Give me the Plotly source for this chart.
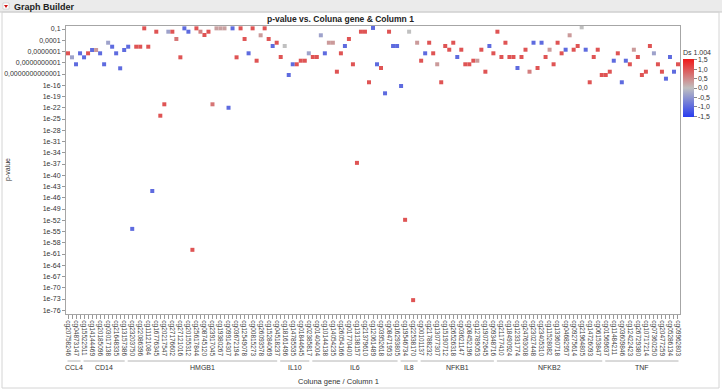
import plotly.graph_objects as go

# ---------------- data ----------------
gene_names = ["CCL4", "CD14", "HMGB1", "IL10", "IL6", "IL8", "NFKB1", "NFKB2", "TNF"]
gene_sizes = [4, 11, 38, 8, 22, 5, 19, 27, 19]

cpg_ids = [
    # CCL4
    "cg20758246", "cg26190095", "cg04873147", "cg02591215",
    # CD14
    "cg15522511", "cg12181036", "cg14144469", "cg17682466", "cg20185096", "cg25392685",
    "cg03017138", "cg17114264", "cg21648335", "cg15778581", "cg13157386",
    # HMGB1
    "cg04914712", "cg23203750", "cg26363256", "cg22086396", "cg07121437", "cg11121084",
    "cg13652826", "cg16776345", "cg10072061", "cg20217547", "cg02466836", "cg27176602",
    "cg26362500", "cg27121016", "cg05518034", "cg20155312", "cg19741135", "cg25617844",
    "cg01364271", "cg08745120", "cg11306428", "cg23917045", "cg06218093", "cg19380267",
    "cg14051482", "cg09914307", "cg22463510", "cg03672194", "cg17820436", "cg12549078",
    "cg24368105", "cg00815273", "cg18302946", "cg26093578", "cg07451632", "cg15284069",
    "cg21037816", "cg04518237",
    # IL10
    "cg26328902", "cg18161496", "cg14120511", "cg14785535", "cg17063608", "cg01844645",
    "cg02205950", "cg02385817",
    # IL6
    "cg24917880", "cg01404004", "cg26288393", "cg10144138", "cg14223612", "cg14054235",
    "cg23251992", "cg26054166", "cg11752116", "cg01770400", "cg07104322", "cg13138157",
    "cg16408570", "cg21379610", "cg05847123", "cg12061489", "cg27356041", "cg03952618",
    "cg19620357", "cg08471953", "cg25149736", "cg16293805",
    # IL8
    "cg04110421", "cg19546734", "cg06913085", "cg22538170", "cg11627394",
    # NFKB1
    "cg00101137", "cg11137590", "cg21788232", "cg14394940", "cg13077307", "cg10185526",
    "cg15190712", "cg24440642", "cg26526318", "cg20917542", "cg03621147", "cg17364028",
    "cg08452196", "cg23160874", "cg12789053", "cg05934217", "cg19072645", "cg27613580",
    "cg09348716",
    # NFKB2
    "cg26252118", "cg21177410", "cg22033811", "cg18490924", "cg26296010", "cg12331774",
    "cg11206784", "cg24763008", "cg20761180", "cg23027448", "cg02418796", "cg23405310",
    "cg26671106", "cg11528082", "cg07894521", "cg13360718", "cg25017463", "cg04682957",
    "cg18843120", "cg09275614", "cg16508239", "cg21964805", "cg03387412", "cg14726093",
    "cg27048516", "cg06153847", "cg19832670",
    # TNF
    "cg01569637", "cg26736341", "cg11484211", "cg17422648", "cg03609846", "cg18661294",
    "cg12422423", "cg23384708", "cg26729380", "cg04425624", "cg10717214", "cg22837916",
    "cg07360250", "cg15989608", "cg20477259", "cg13086627", "cg05286134", "cg24914351",
    "cg09962803",
]

p_values = [
    # CCL4
    3.3e-8, 2.8e-9, 3.9e-11, 3.3e-8,
    # CD14
    2.8e-9, 3.3e-8, 2.5e-7, 2.5e-7, 3.3e-8, 3.9e-11, 2.2e-5, 1.9e-6, 3.3e-8, 3.3e-12, 2.5e-7,
    # HMGB1
    1.9e-6, 5e-55, 1.9e-6, 1.9e-6, 0.15, 1.9e-6, 6.3e-45, 0.019, 7.6e-25, 8.3e-22,
    0.019, 0.019, 2.2e-4, 2.8e-9, 0.15, 0.019, 1.3e-60, 0.15, 0.019, 0.0025,
    0.019, 8.3e-22, 0.15, 0.15, 0.15, 1.0e-22, 0.15, 2.8e-9, 0.15, 2.2e-4,
    3.3e-8, 0.15, 3.5e-10, 0.0021, 0.15, 2.2e-4, 2.9e-6, 2.2e-5,
    # IL10
    3.4e-9, 2.9e-6, 5.4e-14, 3.9e-11, 3.9e-11, 3.5e-10, 3.5e-10, 3.3e-8,
    # IL6
    3.4e-9, 3.4e-9, 0.0021, 3.3e-8, 2.2e-5, 2.2e-5, 4.1e-13, 3.3e-8, 2.9e-6, 2.2e-4,
    3.9e-11, 2e-37, 0.019, 0.019, 6.2e-16, 0.19, 3.9e-11, 4e-12, 7.1e-19, 0.019,
    2.9e-6, 2.9e-6,
    # IL8
    6.3e-17, 1.3e-52, 0.019, 5e-74, 2.2e-5,
    # NFKB1
    3.5e-10, 3.3e-8, 2.2e-5, 3.3e-8, 3.9e-11, 6.2e-16, 2.9e-6, 3.0e-7, 2.2e-5, 3.4e-9,
    3.0e-7, 3.9e-11, 3.9e-11, 3.5e-10, 3.5e-10, 3.0e-7, 4.1e-13, 2.9e-6, 3.3e-8,
    # NFKB2
    0.019, 3.4e-9, 2.2e-5, 3.4e-9, 3.4e-9, 4e-12, 3.4e-9, 3.0e-7, 4.1e-13, 2.2e-5,
    4e-12, 2.2e-5, 3.4e-9, 3.0e-7, 3.9e-11, 2.2e-5, 3.3e-8, 3.0e-7, 0.0021, 3.0e-7,
    2.9e-6, 0.28, 3.0e-7, 6.2e-16, 3.4e-9, 3.0e-7, 5.4e-14,
    # TNF
    5.4e-14, 4.1e-13, 3.5e-10, 3.3e-8, 6.2e-16, 3.5e-10, 3.9e-11, 3.0e-7, 3.4e-9, 5.4e-14,
    4.1e-13, 2.9e-6, 3.3e-8, 3.9e-11, 4.1e-13, 5.6e-15, 3.4e-9, 4.1e-13, 3.9e-11,
]

ds_values = [
    # CCL4
    1.0, -0.35, -1.0, -1.0,
    # CD14
    -1.0, 1.0, -1.0, 0.35, -1.0, -1.0, -0.35, -1.0, -1.0, -1.0, -1.0,
    # HMGB1
    -1.0, -1.0, 1.0, 1.0, 1.0, 1.0, -1.0, 1.0, 1.0, 1.0,
    -0.35, 1.0, 0.7, 1.0, -1.0, -1.0, 1.0, 1.0, 0.6, 1.0,
    1.0, 0.7, 0.3, 0.3, 0.3, -1.0, -1.0, 1.0, 1.0, 1.0,
    -1.0, 1.0, 1.0, 0.35, 1.0, 1.0, -1.0, 1.0,
    # IL10
    1.0, 0.0, -1.0, -1.0, 1.0, 1.0, 1.0, -0.35,
    # IL6
    1.0, 1.0, -0.35, -1.0, 0.35, 0.35, 1.0, 1.0, -1.0, 1.0,
    1.0, 1.0, 1.0, 1.0, 1.0, -1.0, -1.0, 1.0, -1.0, 1.0,
    -1.0, -1.0,
    # IL8
    -1.0, 1.0, 0.0, 1.0, 0.35,
    # NFKB1
    1.0, -1.0, 1.0, 1.0, 0.35, 1.0, 1.0, 1.0, 1.0, -1.0,
    1.0, 1.0, 1.0, 1.0, 0.35, 1.0, 1.0, -1.0, 1.0,
    # NFKB2
    1.0, 1.0, 1.0, 1.0, 1.0, -1.0, 1.0, 1.0, 0.6, -1.0,
    1.0, -1.0, 1.0, 0.35, 1.0, 1.0, 1.0, -1.0, 0.35, 1.0,
    1.0, 0.0, -1.0, 1.0, 1.0, 1.0, 1.0,
    # TNF
    1.0, 1.0, -1.0, 1.0, -1.0, -1.0, 1.0, 0.35, 1.0, 1.0,
    1.0, 1.0, -0.35, 1.0, 1.0, -1.0, -1.0, -1.0, 1.0,
]

y_tick_exponents = [-1, -4, -7, -10, -13, -16, -19, -22, -25, -28, -31, -34, -37, -40,
                    -43, -46, -49, -52, -55, -58, -61, -64, -67, -70, -73, -76]
y_tick_labels = ["0,1", "0,0001", "0,0000001", "0,0000000001", "0,0000000000001",
                 "1e-16", "1e-19", "1e-22", "1e-25", "1e-28", "1e-31", "1e-34", "1e-37",
                 "1e-40", "1e-43", "1e-46", "1e-49", "1e-52", "1e-55", "1e-58", "1e-61",
                 "1e-64", "1e-67", "1e-70", "1e-73", "1e-76"]
cbar_ticks = [1.5, 1.0, 0.5, 0.0, -0.5, -1.0, -1.5]
cbar_labels = ["1,5", "1,0", "0,5", "0,0", "-0,5", "-1,0", "-1,5"]

# ---------------- layout helpers ----------------
W, H = 722, 391
ML, MR, MT, MB = 66, 42, 26, 77
PW, PH = W - ML - MR, H - MT - MB
FONT = "Liberation Sans"


def fx(px):
    return (px - ML) / PW


def fy(py):
    return 1 - (py - MT) / PH


n_cat = len(cpg_ids)
band = PW / n_cat

fig = go.Figure()
fig.add_trace(go.Scatter(
    x=cpg_ids, y=p_values, mode="markers",
    marker=dict(symbol="square", size=4, line=dict(width=0),
                color=ds_values, cmin=-1.55, cmax=1.55,
                colorscale=[[0, "rgb(40,60,240)"], [0.5, "rgb(192,192,192)"], [1, "rgb(240,25,25)"]],
                colorbar=dict(
                    title=dict(text="Ds 1.004", side="top", font=dict(size=7, color="#333", family=FONT)),
                    x=fx(683), xanchor="left", y=fy(82), yanchor="middle",
                    len=70, lenmode="pixels", thickness=11, outlinewidth=0,
                    xpad=0, ypad=0, tickvals=cbar_ticks, ticktext=cbar_labels,
                    ticks="outside", ticklen=3, tickcolor="#888",
                    tickfont=dict(size=7, color="#333", family=FONT))),
    hovertemplate="%{x}<br>p=%{y}<extra></extra>", showlegend=False))

tick_text = [cid if i % 2 == 0 else "" for i, cid in enumerate(cpg_ids)]

fig.update_xaxes(type="category", categoryorder="array", categoryarray=cpg_ids,
                 range=[-0.5, n_cat - 0.5], tickmode="array", tickvals=cpg_ids,
                 ticktext=tick_text, tickangle=90, ticks="outside", ticklen=4,
                 tickcolor="#999", tickfont=dict(size=6.5, color="#444", family=FONT),
                 showgrid=False, showline=True, linecolor="#a6a6a6", mirror=True,
                 zeroline=False)
fig.update_yaxes(type="log", range=[-77, -0.2], tickmode="array",
                 tickvals=[10 ** e for e in y_tick_exponents], ticktext=y_tick_labels,
                 ticks="outside", ticklen=3, tickcolor="#999",
                 tickfont=dict(size=7, color="#333", family=FONT),
                 showgrid=False, showline=True, linecolor="#a6a6a6", mirror=True,
                 zeroline=False)

shapes = []
# header band
shapes.append(dict(type="rect", xref="paper", yref="paper", x0=fx(0), x1=fx(W), y0=fy(12), y1=fy(0),
                   fillcolor="#ebebeb", line=dict(width=0), layer="below"))
shapes.append(dict(type="line", xref="paper", yref="paper", x0=fx(0), x1=fx(W), y0=fy(12), y1=fy(12),
                   line=dict(color="#c8c8c8", width=1)))
# outer frame
shapes.append(dict(type="rect", xref="paper", yref="paper", x0=fx(2), x1=fx(719), y0=fy(388), y1=fy(12),
                   line=dict(color="#d4d4d4", width=1)))
# red disclosure icon
shapes.append(dict(type="rect", xref="paper", yref="paper", x0=fx(3), x1=fx(9), y0=fy(9), y1=fy(3),
                   fillcolor="white", line=dict(color="#bbbbbb", width=0.5)))
shapes.append(dict(type="path", xref="paper", yref="paper",
                   path=f"M {fx(4)},{fy(5)} L {fx(8)},{fy(5)} L {fx(6)},{fy(8)} Z",
                   fillcolor="#d01010", line=dict(width=0)))

annotations = [
    dict(text="<b>Graph Builder</b>", x=fx(12), y=fy(6.5), xref="paper", yref="paper",
         xanchor="left", yanchor="middle", showarrow=False,
         font=dict(size=9, color="#222", family=FONT)),
    dict(text="<b>p-value vs. Coluna gene &amp; Column 1</b>", x=fx(340), y=fy(19), xref="paper",
         yref="paper", xanchor="center", yanchor="middle", showarrow=False,
         font=dict(size=8.5, color="#222", family=FONT)),
    dict(text="p-value", x=fx(8), y=fy(170), xref="paper", yref="paper", textangle=-90,
         xanchor="center", yanchor="middle", showarrow=False,
         font=dict(size=7, color="#333", family=FONT)),
    dict(text="Coluna gene / Column 1", x=fx(338), y=fy(381), xref="paper", yref="paper",
         xanchor="center", yanchor="middle", showarrow=False,
         font=dict(size=7.5, color="#333", family=FONT)),
]

start = 0
for name, size in zip(gene_names, gene_sizes):
    x0 = ML + start * band
    x1 = ML + (start + size) * band
    shapes.append(dict(type="line", xref="paper", yref="paper", x0=fx(x0 + 1.5), x1=fx(x1 - 1.5),
                       y0=fy(361), y1=fy(361), line=dict(color="#b4b4b4", width=1)))
    annotations.append(dict(text=name, x=fx((x0 + x1) / 2), y=fy(367), xref="paper", yref="paper",
                            xanchor="center", yanchor="middle", showarrow=False,
                            font=dict(size=7, color="#333", family=FONT)))
    start += size

fig.update_layout(width=W, height=H, margin=dict(l=ML, r=MR, t=MT, b=MB, autoexpand=False),
                  paper_bgcolor="white", plot_bgcolor="white", separators=",.",
                  shapes=shapes, annotations=annotations, font=dict(family=FONT))

fig.write_html("out.html")
